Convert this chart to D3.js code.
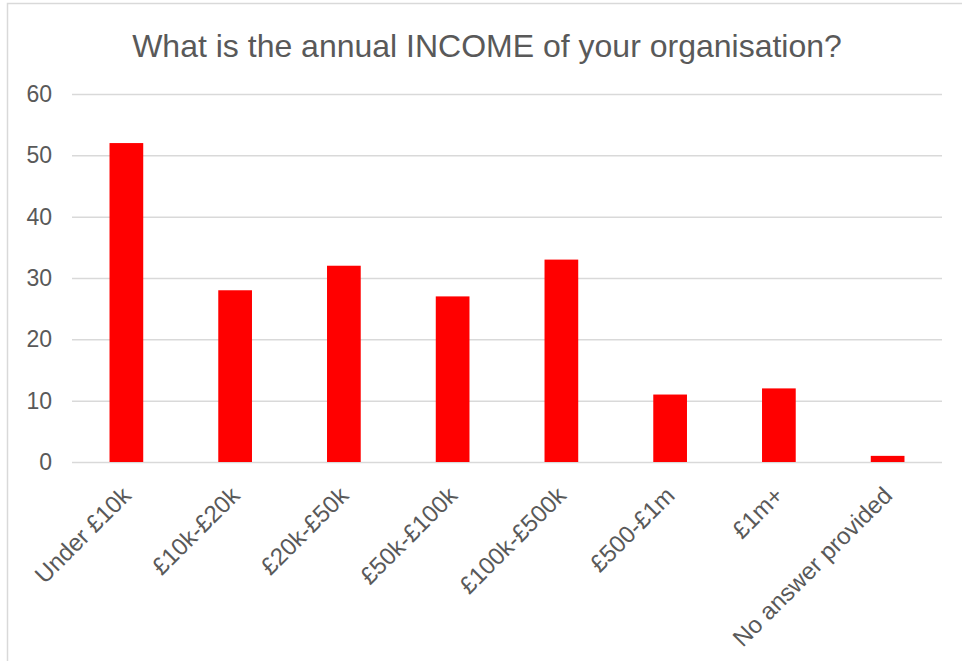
<!DOCTYPE html>
<html>
<head>
<meta charset="utf-8">
<script src="https://cdn.jsdelivr.net/npm/d3@7"></script>
<style>
  html, body { margin: 0; padding: 0; background: #fff; }
  svg { display: block; font-family: "Liberation Sans", Arial, sans-serif; }
</style>
</head>
<body>
<script>
// Survey responses: annual income bands
const categories = ["Under £10k", "£10k-£20k", "£20k-£50k", "£50k-£100k", "£100k-£500k", "£500-£1m", "£1m+", "No answer provided"];
const counts = [52, 28, 32, 27, 33, 11, 12, 1];
const yTicks = [0, 10, 20, 30, 40, 50, 60];
const title = "What is the annual INCOME of your organisation?";

const width = 962, height = 661;
const plot = { left: 72, right: 942, top: 94, bottom: 462 };
const textColor = "#595959";
const font = "Liberation Sans, Arial, sans-serif";

const svg = d3.select("body").append("svg")
  .attr("width", width).attr("height", height);

// chart frame (runs past the right and bottom edges)
svg.append("rect")
  .attr("x", 7.5).attr("y", 3.5)
  .attr("width", 980).attr("height", 700)
  .attr("fill", "#fff").attr("stroke", "#d9d9d9").attr("stroke-width", 1.5);

const x = d3.scaleBand().domain(categories).range([plot.left, plot.right]).paddingInner(0.69).paddingOuter(0.345);
const y = d3.scaleLinear().domain([0, 60]).range([plot.bottom, plot.top]);

// title
svg.append("text")
  .attr("x", 487).attr("y", 57)
  .attr("text-anchor", "middle")
  .attr("font-size", 32).attr("fill", textColor)
  .attr("font-family", font)
  .text(title);

// horizontal gridlines + value axis labels
const yAxis = d3.axisLeft(y).tickValues(yTicks).tickSize(-(plot.right - plot.left)).tickPadding(20);
const gy = svg.append("g").attr("transform", `translate(${plot.left},0)`).call(yAxis);
gy.select(".domain").remove();
gy.selectAll(".tick line").attr("stroke", "#d9d9d9").attr("stroke-width", 1.5);
gy.selectAll(".tick text").attr("font-size", 23).attr("fill", textColor).attr("font-family", font);

// bars
svg.append("g").selectAll("rect").data(categories).join("rect")
  .attr("x", d => x(d))
  .attr("width", x.bandwidth())
  .attr("y", (d, i) => y(counts[i]))
  .attr("height", (d, i) => y(0) - y(counts[i]))
  .attr("fill", "#ff0000");

// category labels, rotated
const xAxis = d3.axisBottom(x).tickSize(0).tickPadding(0);
const gx = svg.append("g").attr("transform", `translate(0,${plot.bottom})`).call(xAxis);
gx.select(".domain").remove();
gx.selectAll(".tick text")
  .attr("font-size", 24).attr("fill", textColor)
  .attr("font-family", font)
  .attr("text-anchor", "end")
  .attr("dy", "0")
  .attr("transform", "translate(6,35) rotate(-45)");
</script>
</body>
</html>
